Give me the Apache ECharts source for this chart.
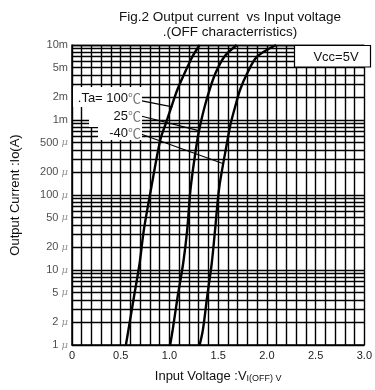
<!DOCTYPE html>
<html><head><meta charset="utf-8">
<script src="https://cdn.jsdelivr.net/npm/echarts@6/dist/echarts.min.js"></script>
<style>html,body{margin:0;padding:0;background:#fff}#c{width:375px;height:390px}</style>
</head><body><div id="c"></div>
<script>
// Output current levels (A) at which the curves were read
const ioLevels = [1e-6, 1.585e-6, 4.4e-6, 1.23e-5, 3.4e-5, 1.29e-4, 5.41e-4, 9.03e-4, 1.5e-3, 2.51e-3, 4.2e-3, 6.98e-3, 1e-2];
// Input voltage (V) of each curve at those levels
const vTa100 = [0.553, 0.579, 0.636, 0.694, 0.737, 0.815, 0.906, 0.963, 1.020, 1.080, 1.155, 1.235, 1.310];
const vTa25  = [1.007, 1.033, 1.084, 1.141, 1.182, 1.219, 1.286, 1.320, 1.361, 1.411, 1.472, 1.563, 1.690];
const vTaM40 = [1.310, 1.343, 1.387, 1.434, 1.468, 1.512, 1.596, 1.629, 1.674, 1.724, 1.798, 1.899, 2.094];
// y tick labels
const yLabelValues = [1e-2, 5e-3, 2e-3, 1e-3, 5e-4, 2e-4, 1e-4, 5e-5, 2e-5, 1e-5, 5e-6, 2e-6, 1e-6];
const yLabelNums   = ['10', '5', '2', '1', '500', '200', '100', '50', '20', '10', '5', '2', '1'];
const yLabelUnits  = ['m', 'm', 'm', 'm', 'μ', 'μ', 'μ', 'μ', 'μ', 'μ', 'μ', 'μ', 'μ'];
// leader lines from the temperature labels to the curves [V, A]
const leader100 = [[0.705, 1.81e-3], [1.03, 1.5e-3]];
const leader25  = [[0.707, 1.13e-3], [1.30, 7.2e-4]];
const leaderM40 = [[0.707, 6.5e-4], [1.54, 2.65e-4]];

const chart = echarts.init(document.getElementById('c'), null, {renderer: 'canvas'});
const gridLine = {color: '#000', width: 1.4};
const FONT = 'Liberation Sans, Arial, sans-serif';

function curve(volts, lead) {
  return {
    type: 'line',
    data: ioLevels.map((c, i) => [volts[i], c]),
    smooth: 0.3,
    symbol: 'none',
    lineStyle: {color: '#000', width: 2.4},
    z: 5,
    markLine: {
      silent: true, animation: false,
      symbol: ['none', 'none'],
      label: {show: false},
      lineStyle: {color: '#000', width: 1.2, type: 'solid'},
      data: [[{coord: lead[0]}, {coord: lead[1]}]]
    }
  };
}

const option = {
  animation: false,
  backgroundColor: '#fff',
  title: {
    text: 'Fig.2 Output current  vs Input voltage\n.(OFF characterristics)',
    left: 225, top: 5, textAlign: 'center',
    textStyle: {fontFamily: FONT, fontSize: 13.5, fontWeight: 'normal', color: '#111', lineHeight: 15}
  },
  grid: {left: 72, right: 6, top: 45, bottom: 45},
  xAxis: {
    type: 'value', min: 0, max: 3, interval: 0.1,
    axisLine: {show: true, lineStyle: {color: '#000', width: 1.5}},
    axisTick: {show: false},
    splitLine: {show: true, lineStyle: gridLine},
    axisLabel: {
      fontFamily: FONT, fontSize: 11, color: '#222', margin: 5,
      formatter: function (v) {
        const k = Math.round(v * 10);
        if (k % 5 !== 0) return '';
        return k === 0 ? '0' : (k / 10).toFixed(1);
      }
    },
    name: '{a|Input Voltage :V}{b|I(OFF) V}',
    nameLocation: 'middle', nameGap: 25,
    nameTextStyle: {
      rich: {
        a: {fontFamily: FONT, fontSize: 13, color: '#111'},
        b: {fontFamily: FONT, fontSize: 9, color: '#111', padding: [4, 0, 0, 0]}
      }
    }
  },
  yAxis: {
    type: 'log', logBase: 10, min: 1e-6, max: 1e-2,
    axisLine: {show: true, lineStyle: {color: '#000', width: 1.5}},
    axisTick: {show: false},
    axisLabel: {show: false},
    splitLine: {show: true, lineStyle: gridLine},
    minorTick: {show: false, splitNumber: 9},
    minorSplitLine: {show: true, lineStyle: gridLine},
    name: 'Output Current :Io(A)',
    nameLocation: 'middle', nameGap: 50,
    nameTextStyle: {fontFamily: FONT, fontSize: 13, color: '#111'}
  },
  series: [
    curve(vTa100, leader100),
    curve(vTa25, leader25),
    curve(vTaM40, leaderM40),
    {
      type: 'scatter', silent: true, clip: false,
      symbolSize: 0.1, itemStyle: {color: 'transparent'},
      data: yLabelValues.map(v => [0, v]),
      label: {
        show: true, position: 'left', distance: 4,
        formatter: function (p) {
          const i = p.dataIndex;
          return yLabelUnits[i] === 'm' ? '{n|' + yLabelNums[i] + 'm}' : '{n|' + yLabelNums[i] + ' }{u|μ}';
        },
        rich: {
          n: {fontFamily: FONT, fontSize: 11, color: '#222'},
          u: {fontFamily: 'DejaVu Serif', fontSize: 10, color: '#777', fontStyle: 'italic'}
        }
      }
    }
  ],
  graphic: [
    {type: 'rect', z: 100, shape: {x: 73, y: 87, width: 69, height: 20}, style: {fill: '#fff'}},
    {type: 'rect', z: 100, shape: {x: 89, y: 107, width: 53, height: 20}, style: {fill: '#fff'}},
    {type: 'rect', z: 100, shape: {x: 98, y: 127, width: 44, height: 13}, style: {fill: '#fff'}},
    {type: 'text', z: 101, x: 141, y: 98, style: {
      text: '{a|.Ta= 100}{b|℃}', align: 'right', verticalAlign: 'middle',
      rich: {a: {fontSize: 13, fontFamily: FONT, fill: '#111'}, b: {fontSize: 13, fontFamily: 'Noto Sans CJK JP', fill: '#777'}}
    }},
    {type: 'text', z: 101, x: 141, y: 116.5, style: {
      text: '{a|25}{b|℃}', align: 'right', verticalAlign: 'middle',
      rich: {a: {fontSize: 13, fontFamily: FONT, fill: '#111'}, b: {fontSize: 13, fontFamily: 'Noto Sans CJK JP', fill: '#777'}}
    }},
    {type: 'text', z: 101, x: 141, y: 133.5, style: {
      text: '{a|-40}{b|℃}', align: 'right', verticalAlign: 'middle',
      rich: {a: {fontSize: 13, fontFamily: FONT, fill: '#111'}, b: {fontSize: 13, fontFamily: 'Noto Sans CJK JP', fill: '#777'}}
    }},
    {type: 'rect', z: 100, shape: {x: 294.5, y: 45.5, width: 76, height: 21.5}, style: {fill: '#fff', stroke: '#000', lineWidth: 1.2}},
    {type: 'text', z: 101, x: 336, y: 57, style: {text: 'Vcc=5V', font: '13px Liberation Sans', fill: '#111', align: 'center', verticalAlign: 'middle'}}
  ]
};
chart.setOption(option);
</script>
</body></html>
